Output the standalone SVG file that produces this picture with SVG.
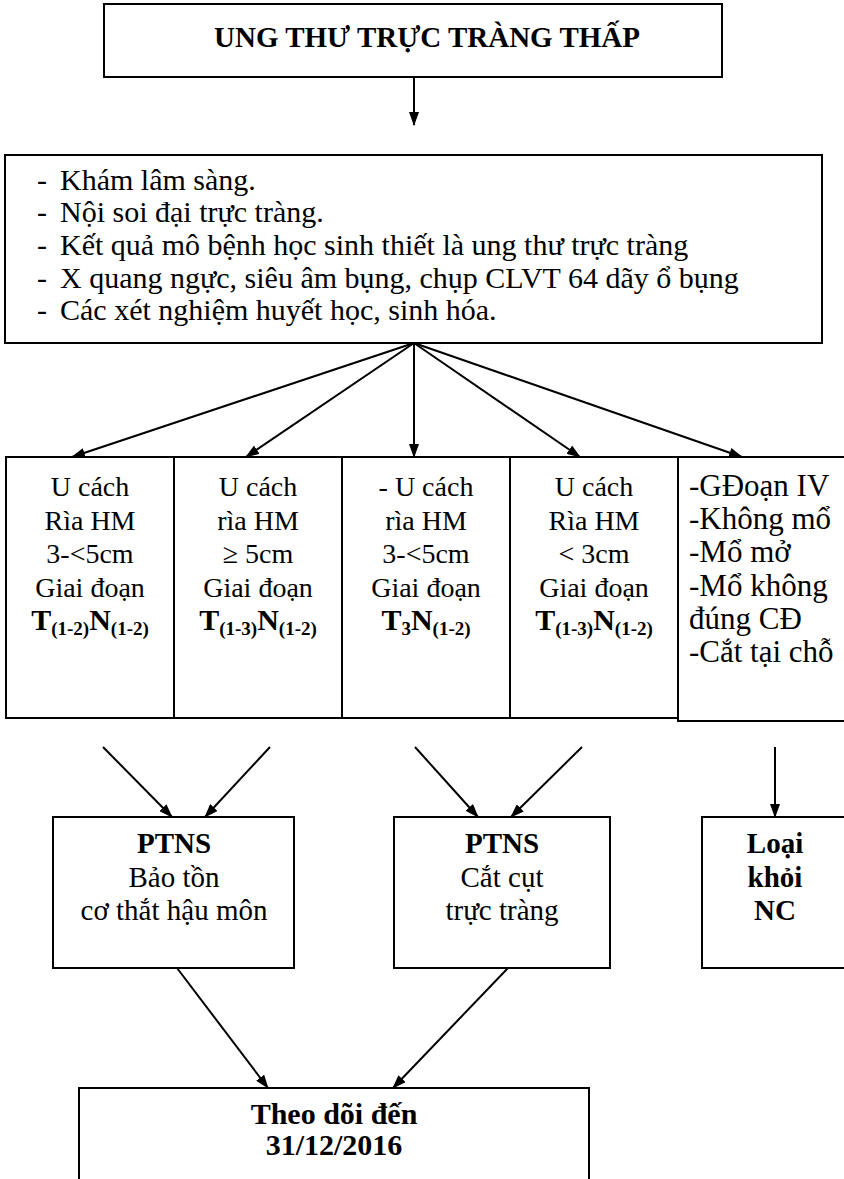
<svg xmlns="http://www.w3.org/2000/svg" width="844" height="1179" viewBox="0 0 844 1179">
<style>
  .box { fill: #ffffff; stroke: #000000; stroke-width: 2; }
  .t { font-family: "Liberation Serif", "Times New Roman", serif; font-size: 28px; fill: #000000; }
  .big { font-size: 30px; }
  .c { text-anchor: middle; }
  .b { font-weight: bold; }
  .sub { font-size: 19px; font-weight: bold; }
  .conn line { stroke: #000000; stroke-width: 2; marker-end: url(#arr); }
</style>
<defs>
  <marker id="arr" viewBox="0 0 14 10" refX="13" refY="5" markerWidth="14" markerHeight="10" markerUnits="userSpaceOnUse" orient="auto">
    <path d="M0,0 L14,5 L0,10 z" fill="#000000"/>
  </marker>
</defs>
<rect width="844" height="1179" fill="#ffffff"/>

<g id="n-title">
  <rect class="box" x="104" y="4" width="618" height="73"/>
  <text class="t c b" x="427" y="47" style="font-size:29px">UNG THƯ TRỰC TRÀNG THẤP</text>
</g>

<g id="n-exam">
  <rect class="box" x="5" y="155" width="817" height="188"/>
  <g class="t big">
    <text x="37" y="190">-</text><text x="60" y="190">Khám lâm sàng.</text>
    <text x="37" y="222">-</text><text x="60" y="222">Nội soi đại trực tràng.</text>
    <text x="37" y="255">-</text><text x="60" y="255">Kết quả mô bệnh học sinh thiết là ung thư trực tràng</text>
    <text x="37" y="288">-</text><text x="60" y="288">X quang ngực, siêu âm bụng, chụp CLVT 64 dãy ổ bụng</text>
    <text x="37" y="320">-</text><text x="60" y="320">Các xét nghiệm huyết học, sinh hóa.</text>
  </g>
</g>

<g id="n-col1">
  <rect class="box" x="6" y="457" width="168" height="261"/>
  <g class="t c">
    <text x="90" y="496">U cách</text>
    <text x="90" y="529.5">Rìa HM</text>
    <text x="90" y="563">3-&lt;5cm</text>
    <text x="90" y="596.5">Giai đoạn</text>
    <text x="90" y="630" class="b" style="font-size:30px">T<tspan class="sub" dy="5">(1-2)</tspan><tspan dy="-5">N</tspan><tspan class="sub" dy="5">(1-2)</tspan></text>
  </g>
</g>

<g id="n-col2">
  <rect class="box" x="174" y="457" width="168" height="261"/>
  <g class="t c">
    <text x="258" y="496">U cách</text>
    <text x="258" y="529.5">rìa HM</text>
    <text x="258" y="563">≥ 5cm</text>
    <text x="258" y="596.5">Giai đoạn</text>
    <text x="258" y="630" class="b" style="font-size:30px">T<tspan class="sub" dy="5">(1-3)</tspan><tspan dy="-5">N</tspan><tspan class="sub" dy="5">(1-2)</tspan></text>
  </g>
</g>

<g id="n-col3">
  <rect class="box" x="342" y="457" width="168" height="261"/>
  <g class="t c">
    <text x="426" y="496">- U cách</text>
    <text x="426" y="529.5">rìa HM</text>
    <text x="426" y="563">3-&lt;5cm</text>
    <text x="426" y="596.5">Giai đoạn</text>
    <text x="426" y="630" class="b" style="font-size:30px">T<tspan class="sub" dy="5">3</tspan><tspan dy="-5">N</tspan><tspan class="sub" dy="5">(1-2)</tspan></text>
  </g>
</g>

<g id="n-col4">
  <rect class="box" x="510" y="457" width="168" height="261"/>
  <g class="t c">
    <text x="594" y="496">U cách</text>
    <text x="594" y="529.5">Rìa HM</text>
    <text x="594" y="563">&lt; 3cm</text>
    <text x="594" y="596.5">Giai đoạn</text>
    <text x="594" y="630" class="b" style="font-size:30px">T<tspan class="sub" dy="5">(1-3)</tspan><tspan dy="-5">N</tspan><tspan class="sub" dy="5">(1-2)</tspan></text>
  </g>
</g>

<g id="n-col5">
  <rect class="box" x="678" y="457" width="170" height="264"/>
  <g class="t" style="font-size:31px">
    <text x="689" y="496">-GĐoạn IV</text>
    <text x="689" y="529">-Không mổ</text>
    <text x="689" y="562">-Mổ mở</text>
    <text x="689" y="595.5">-Mổ không</text>
    <text x="689" y="629">đúng CĐ</text>
    <text x="689" y="662">-Cắt tại chỗ</text>
  </g>
</g>

<g id="n-ptns1">
  <rect class="box" x="53" y="817" width="241" height="151"/>
  <g class="t c" style="font-size:29px">
    <text x="174" y="853" class="b">PTNS</text>
    <text x="174" y="887">Bảo tồn</text>
    <text x="174" y="920">cơ thắt hậu môn</text>
  </g>
</g>

<g id="n-ptns2">
  <rect class="box" x="394" y="817" width="216" height="151"/>
  <g class="t c" style="font-size:29px">
    <text x="502" y="853" class="b">PTNS</text>
    <text x="502" y="887">Cắt cụt</text>
    <text x="502" y="920">trực tràng</text>
  </g>
</g>

<g id="n-excl">
  <rect class="box" x="702" y="817" width="146" height="151"/>
  <g class="t c b" style="font-size:29px">
    <text x="775" y="853">Loại</text>
    <text x="775" y="887">khỏi</text>
    <text x="775" y="920">NC</text>
  </g>
</g>

<g id="n-follow">
  <rect class="box" x="79" y="1088" width="510" height="104"/>
  <g class="t c b" style="font-size:30px">
    <text x="334" y="1124">Theo dõi đến</text>
    <text x="334" y="1155">31/12/2016</text>
  </g>
</g>

<g id="connectors" class="conn">
  <line x1="414" y1="77" x2="414" y2="125"/>
  <line x1="414" y1="343" x2="72" y2="457"/>
  <line x1="414" y1="343" x2="246" y2="457"/>
  <line x1="414" y1="343" x2="414" y2="457"/>
  <line x1="414" y1="343" x2="580" y2="457"/>
  <line x1="414" y1="343" x2="742" y2="457"/>
  <line x1="103" y1="747" x2="172" y2="817"/>
  <line x1="270" y1="747" x2="205" y2="817"/>
  <line x1="415" y1="747" x2="478" y2="817"/>
  <line x1="582" y1="747" x2="511" y2="817"/>
  <line x1="775" y1="747" x2="775" y2="817"/>
  <line x1="177" y1="968" x2="268" y2="1088"/>
  <line x1="508" y1="968" x2="393" y2="1088"/>
</g>
</svg>
